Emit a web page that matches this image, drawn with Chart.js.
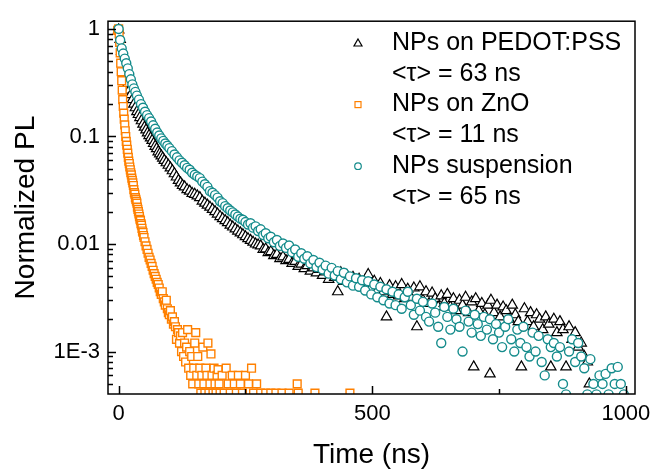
<!DOCTYPE html>
<html>
<head>
<meta charset="utf-8">
<script src="https://cdn.jsdelivr.net/npm/chart.js@4.4.0/dist/chart.umd.min.js"></script>
<style>
  html, body { margin: 0; padding: 0; background: #fff; }
  #wrap { width: 664px; height: 469px; }
</style>
</head>
<body>
<div id="wrap"><canvas id="canvas" width="664" height="469"></canvas></div>
<script>
// axis ticks
const xTickValues = [0, 500, 1000];
const xTickLabels = ['0', '500', '1000'];
const xMinorTicks = [250, 750];
const yTickValues = [1e-3, 1e-2, 0.1, 1];
const yTickLabels = ['1E-3', '0.01', '0.1', '1'];

// NPs on PEDOT:PSS (triangles)
const pedotTime = [
  0,3,6,9,12,15,18,21,24,27,
  30,33,36,39,42,45,48,51,54,57,
  60,63,66,69,72,75,78,81,84,87,
  90,94,98,102,106,110,114,118,122,126,
  130,135,140,145,150,155,160,165,170,175,
  180,185,190,195,200,205,210,215,220,225,
  230,235,240,245,250,255,260,265,270,275,
  280,285,290,295,300,306,312,318,324,330,
  336,342,348,354,360,366,372,378,384,390,
  396,402,408,414,420,426,432,438,444,450,
  456,462,468,474,480,486,492,498,504,510,
  516,522,528,534,540,546,552,558,564,570,
  576,582,588,594,600,606,612,618,624,630,
  636,642,648,654,660,666,672,678,684,690,
  696,700,704,710,716,722,728,732,734,740,
  746,752,758,764,770,776,782,788,794,800,
  806,812,818,824,830,836,842,848,852,858,
  864,870,876,882,888,894,900,906,912,918,
  924,928
];
const pedotPL = [
  0.98,0.80,0.62,0.50,0.42,0.36,0.31,0.27,0.245,0.22,
  0.20,0.185,0.17,0.16,0.15,0.14,0.13,0.122,0.115,0.108,
  0.102,0.097,0.092,0.086,0.081,0.077,0.072,0.069,0.066,0.063,
  0.060,0.057,0.054,0.051,0.048,0.045,0.042,0.039,0.037,0.035,
  0.034,0.032,0.031,0.0295,0.029,0.028,0.027,0.025,0.024,0.023,
  0.022,0.021,0.020,0.019,0.018,0.0172,0.0165,0.0158,0.015,0.0144,
  0.0138,0.0132,0.0127,0.0122,0.0117,0.0112,0.0108,0.0104,0.0100,0.0098,
  0.0096,0.0089,0.0090,0.0083,0.0085,0.0078,0.0080,0.0073,0.0076,0.0070,
  0.0072,0.0066,0.0069,0.0062,0.0065,0.0059,0.0063,0.0056,0.0060,0.0054,
  0.0058,0.0051,0.0055,0.0047,0.0053,0.0049,0.0036,0.0054,0.0045,0.0051,
  0.0044,0.0049,0.0042,0.0047,0.0040,0.0046,0.0052,0.0039,0.0045,0.0037,
  0.0043,0.0036,0.0021,0.0041,0.0034,0.0040,0.0033,0.0042,0.0031,0.0038,
  0.0032,0.0039,0.0017,0.0040,0.0030,0.0036,0.0028,0.0035,0.0031,0.0026,
  0.0033,0.0028,0.0034,0.0026,0.0031,0.0024,0.0030,0.0027,0.0032,0.0023,
  0.0029,0.00072,0.0031,0.0024,0.0028,0.0022,0.0027,0.00062,0.0030,0.0023,
  0.0027,0.0021,0.0026,0.0024,0.0020,0.0027,0.0022,0.0019,0.00072,0.0025,
  0.0019,0.0023,0.0017,0.0022,0.0020,0.0016,0.0021,0.0018,0.00072,0.0020,
  0.0015,0.0019,0.0016,0.00072,0.0017,0.0013,0.0015,0.0011,0.0012,0.0009,
  0.0008,0.0005
];

// NPs on ZnO (squares)
const znoTime = [
  -2,0,1,2,3,4,5,6,7,8,
  9,10,11,12,13,14,15,16,17,18,
  19,20,21,22,23,24,25,26,27,28,
  29,30,31,32,33,34,35,36,37,38,
  39,40,41,42,43,44,45,46,47,48,
  49,50,52,54,56,58,60,62,64,66,
  68,70,72,74,76,78,80,82,84,86,
  88,90,92,94,96,98,100,102,104,106,
  108,110,112,114,116,118,120,122,124,126,
  128,130,132,134,136,138,140,142,144,146,
  148,150,152,154,156,158,160,162,164,166,
  168,170,172,174,176,178,180,182,184,186,
  188,190,192,194,196,198,200,204,208,212,
  216,220,224,228,232,236,240,244,250,256,
  262,266,272,280,290,300,310,322,336,352,
  354,387,456
];
const znoPL = [
  0.97,1.0,0.90,0.75,0.60,0.48,0.40,0.33,0.27,0.22,
  0.19,0.165,0.145,0.128,0.113,0.10,0.09,0.083,0.076,0.070,
  0.064,0.059,0.056,0.052,0.049,0.046,0.044,0.041,0.039,0.037,
  0.035,0.032,0.030,0.029,0.027,0.026,0.025,0.024,0.022,0.021,
  0.020,0.019,0.018,0.017,0.0165,0.0155,0.015,0.014,0.0132,0.0128,
  0.012,0.0115,0.0105,0.0096,0.0089,0.0082,0.0075,0.0071,0.0066,0.0062,
  0.0057,0.0053,0.0050,0.0047,0.0044,0.0042,0.0039,0.0036,0.0034,0.0036,
  0.0031,0.0029,0.0027,0.0030,0.0025,0.0023,0.0022,0.0024,0.0020,0.0021,
  0.0018,0.0019,0.0017,0.0013,0.0016,0.0015,0.0012,0.0014,0.0010,0.0015,
  0.0009,0.0012,0.0008,0.0011,0.0016,0.0007,0.0010,0.0006,0.0009,0.0005,
  0.0007,0.0012,0.0015,0.0006,0.0009,0.0005,0.0007,0.00041,0.0006,0.0011,
  0.0005,0.00041,0.0007,0.0006,0.0012,0.00041,0.0005,0.00095,0.0006,0.00041,
  0.0007,0.0005,0.00041,0.0006,0.00068,0.0005,0.00041,0.0006,0.00041,0.0007,
  0.0005,0.00041,0.0006,0.0005,0.00041,0.0006,0.0005,0.00041,0.0006,0.0005,
  0.0007,0.00041,0.0005,0.00041,0.00041,0.00041,0.00041,0.00041,0.00041,0.0005,
  0.00041,0.00041,0.00041
];

// NPs suspension (circles)
const suspTime = [
  0,3,6,9,12,15,18,21,24,27,
  30,33,36,40,44,48,52,56,60,64,
  68,72,76,80,84,88,92,96,100,105,
  110,115,120,125,130,135,140,145,150,155,
  160,165,170,175,180,185,190,195,200,205,
  210,215,220,225,230,235,240,245,250,255,
  260,265,270,275,280,285,290,295,300,306,
  312,318,324,330,336,342,348,354,360,366,
  372,378,384,390,396,402,408,414,420,426,
  432,438,444,450,456,462,468,474,480,486,
  492,498,504,510,516,522,528,534,540,546,
  552,558,564,570,576,582,588,594,600,606,
  612,618,624,630,636,642,648,654,660,666,
  672,678,684,690,696,702,708,714,720,726,
  732,738,744,750,756,762,768,774,780,786,
  792,798,804,810,816,822,828,834,840,846,
  852,858,864,870,876,882,888,894,900,906,
  912,918,924,930,936,942,948,954,960,966,
  972,978,984,990,996
];
const suspPL = [
  1.0,0.79,0.66,0.59,0.53,0.48,0.43,0.38,0.34,0.305,
  0.28,0.26,0.24,0.22,0.20,0.185,0.17,0.158,0.148,0.138,
  0.127,0.118,0.109,0.102,0.096,0.091,0.086,0.082,0.078,0.073,
  0.068,0.064,0.060,0.057,0.054,0.051,0.049,0.046,0.044,0.0425,
  0.041,0.038,0.036,0.034,0.031,0.030,0.0285,0.027,0.025,0.024,
  0.0225,0.0215,0.0205,0.0197,0.0188,0.018,0.0172,0.0168,0.016,0.0152,
  0.0156,0.0142,0.0146,0.0132,0.0137,0.0121,0.0126,0.0113,0.0117,0.0104,
  0.0109,0.0096,0.0101,0.0092,0.0097,0.0084,0.0089,0.0076,0.0082,0.0073,
  0.0077,0.0066,0.0071,0.0061,0.0067,0.0058,0.0063,0.0053,0.0060,0.0051,
  0.0056,0.0047,0.0054,0.0044,0.0050,0.0041,0.0048,0.0040,0.0046,0.0037,
  0.0045,0.0034,0.0042,0.0032,0.0040,0.0030,0.0038,0.0028,0.0036,0.0027,
  0.0034,0.0025,0.0032,0.0036,0.0027,0.0022,0.0031,0.0024,0.0029,0.0021,
  0.0019,0.0028,0.0023,0.0017,0.0012,0.0026,0.0021,0.0016,0.0025,0.0020,
  0.0017,0.0010,0.0024,0.0019,0.0015,0.0022,0.0018,0.0014,0.0021,0.0016,
  0.0020,0.0013,0.0018,0.0015,0.0011,0.0017,0.0020,0.0013,0.0010,0.0016,
  0.0012,0.0017,0.0011,0.0009,0.0015,0.0010,0.0014,0.0008,0.0006,0.0013,
  0.0011,0.0012,0.0009,0.0011,0.0005,0.0004,0.0010,0.0013,0.0008,0.0012,
  0.0009,0.0007,0.0004,0.00085,0.0005,0.0004,0.0006,0.0005,0.00062,0.0004,
  0.0007,0.0005,0.00072,0.0005,0.0004
];

const legendLines = [
  ['NPs on PEDOT:PSS', '<τ> = 63 ns'],
  ['NPs on ZnO', '<τ> = 11 ns'],
  ['NPs suspension', '<τ> = 65 ns']
];

const FONT = "'Liberation Sans', Arial, sans-serif";
const BLACK = '#000000';
const ORANGE = '#ff8000';
const TEAL = '#158c8c';

function toPoints(xs, ys) {
  return xs.map((x, i) => ({ x: x, y: ys[i] }));
}

// box around the plot and inward tick marks
const frameTicks = {
  id: 'frameTicks',
  afterDatasetsDraw(chart) {
    const ctx = chart.ctx;
    const a = chart.chartArea;
    const xs = chart.scales.x;
    const ys = chart.scales.y;
    ctx.save();
    ctx.strokeStyle = '#000';
    ctx.lineWidth = 1.5;
    ctx.strokeRect(a.left, a.top, a.right - a.left, a.bottom - a.top);
    ctx.beginPath();
    xTickValues.forEach(v => {
      const p = Math.round(xs.getPixelForValue(v)) + 0.5;
      ctx.moveTo(p, a.bottom);
      ctx.lineTo(p, a.bottom - 8);
    });
    xMinorTicks.forEach(v => {
      const p = Math.round(xs.getPixelForValue(v)) + 0.5;
      ctx.moveTo(p, a.bottom);
      ctx.lineTo(p, a.bottom - 5);
    });
    for (let e = -4; e <= 0; e++) {
      for (let m = 1; m <= 9; m++) {
        const v = m * Math.pow(10, e);
        if (v < ys.min || v > ys.max) continue;
        const p = Math.round(ys.getPixelForValue(v)) + 0.5;
        ctx.moveTo(a.left, p);
        ctx.lineTo(a.left + (m === 1 ? 8 : 5), p);
      }
    }
    ctx.stroke();
    ctx.restore();
  }
};

// legend inside the plot, two text lines per entry
const innerLegend = {
  id: 'innerLegend',
  afterDraw(chart) {
    const ctx = chart.ctx;
    const symX = 358, textX = 392, top = 43, step = 30.8;
    ctx.save();
    ctx.font = '25px ' + FONT;
    ctx.fillStyle = '#000';
    ctx.textBaseline = 'middle';
    ctx.textAlign = 'left';
    legendLines.forEach((lines, i) => {
      lines.forEach((t, j) => {
        ctx.fillText(t, textX, top + (i * 2 + j) * step);
      });
    });
    ctx.lineWidth = 1.2;
    // triangle
    let y = top;
    ctx.strokeStyle = BLACK;
    ctx.beginPath();
    ctx.moveTo(symX, y - 4);
    ctx.lineTo(symX + 4, y + 3);
    ctx.lineTo(symX - 4, y + 3);
    ctx.closePath();
    ctx.stroke();
    // square
    y = top + 2 * step;
    ctx.strokeStyle = ORANGE;
    ctx.strokeRect(symX - 3, y - 3, 6, 6);
    // circle
    y = top + 4 * step;
    ctx.strokeStyle = TEAL;
    ctx.beginPath();
    ctx.arc(symX, y, 3.3, 0, Math.PI * 2);
    ctx.stroke();
    ctx.restore();
  }
};

const ctx = document.getElementById('canvas').getContext('2d');
const myChart = new Chart(ctx, {
  type: 'scatter',
  data: {
    datasets: [
      {
        label: 'NPs on PEDOT:PSS',
        data: toPoints(pedotTime, pedotPL),
        pointStyle: 'triangle',
        pointRadius: 6,
        borderColor: BLACK,
        backgroundColor: '#ffffff',
        borderWidth: 1.2,
        clip: 0,
        order: 2
      },
      {
        label: 'NPs on ZnO',
        data: toPoints(znoTime, znoPL),
        pointStyle: 'rect',
        pointRadius: 5.5,
        borderColor: ORANGE,
        backgroundColor: '#ffffff',
        borderWidth: 1.4,
        clip: 0,
        order: 1
      },
      {
        label: 'NPs suspension',
        data: toPoints(suspTime, suspPL),
        pointStyle: 'circle',
        pointRadius: 4.5,
        borderColor: TEAL,
        backgroundColor: '#ffffff',
        borderWidth: 1.4,
        clip: 0,
        order: 0
      }
    ]
  },
  options: {
    responsive: false,
    animation: false,
    events: [],
    layout: { padding: { top: 16, right: 29, left: 0, bottom: 0 } },
    plugins: {
      legend: { display: false },
      tooltip: { enabled: false }
    },
    scales: {
      x: {
        type: 'linear',
        min: -21,
        max: 1018,
        afterBuildTicks: scale => { scale.ticks = xTickValues.map(v => ({ value: v })); },
        afterFit: scale => { scale.height = 75; },
        grid: { display: false, drawTicks: false },
        border: { display: false },
        ticks: {
          color: '#000',
          font: { family: FONT, size: 22 },
          padding: 7,
          maxRotation: 0,
          autoSkip: false,
          callback: (v, i) => xTickLabels[i]
        },
        title: {
          display: true,
          text: 'Time (ns)',
          color: '#000',
          font: { family: FONT, size: 28, lineHeight: 1 },
          padding: { top: 0, bottom: 0 }
        }
      },
      y: {
        type: 'logarithmic',
        min: 4.03e-4,
        max: 1.18,
        afterBuildTicks: scale => { scale.ticks = yTickValues.map(v => ({ value: v })); },
        afterFit: scale => { scale.width = 108; },
        grid: { display: false, drawTicks: false },
        border: { display: false },
        ticks: {
          color: '#000',
          font: { family: FONT, size: 22 },
          padding: 8,
          autoSkip: false,
          callback: (v, i) => yTickLabels[i]
        },
        title: {
          display: true,
          text: 'Normalized PL',
          color: '#000',
          font: { family: FONT, size: 28, lineHeight: 1 },
          padding: { top: 12, bottom: 0 }
        }
      }
    }
  },
  plugins: [frameTicks, innerLegend]
});
</script>
</body>
</html>
